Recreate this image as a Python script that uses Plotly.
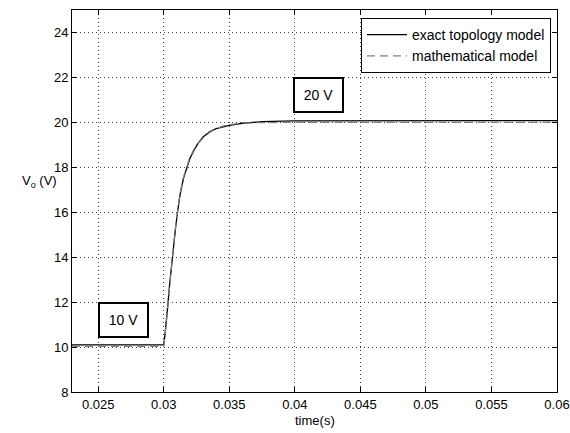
import plotly.graph_objects as go

# Exact topology model
t_exact = [0.023, 0.0300, 0.03010, 0.03020, 0.03030, 0.03045, 0.03060, 0.03075, 0.03090,
           0.03105, 0.03125, 0.03150, 0.03175, 0.03200, 0.03230, 0.03260, 0.03300, 0.03350,
           0.03400, 0.03450, 0.03500, 0.03600, 0.03750, 0.04000, 0.04500, 0.06]
v_exact = [10.10, 10.10, 10.60, 11.10, 11.80, 12.80, 13.70, 14.50, 15.30,
           16.00, 16.80, 17.50, 18.00, 18.40, 18.75, 19.05, 19.35, 19.58,
           19.72, 19.80, 19.87, 19.96, 20.03, 20.07, 20.08, 20.08]

# Mathematical model
t_math = [0.023, 0.0300, 0.03010, 0.03020, 0.03030, 0.03045, 0.03060, 0.03075, 0.03090,
          0.03105, 0.03125, 0.03150, 0.03175, 0.03200, 0.03230, 0.03260, 0.03300, 0.03350,
          0.03400, 0.03450, 0.03500, 0.03600, 0.03750, 0.04000, 0.06]
v_math = [10.03, 10.03, 10.50, 11.05, 11.75, 12.75, 13.70, 14.55, 15.35,
          16.05, 16.85, 17.55, 18.05, 18.45, 18.80, 19.05, 19.30, 19.55,
          19.72, 19.83, 19.90, 19.96, 19.99, 20.00, 20.00]

x_ticks = [0.025, 0.03, 0.035, 0.04, 0.045, 0.05, 0.055, 0.06]
x_tick_labels = ["0.025", "0.03", "0.035", "0.04", "0.045", "0.05", "0.055", "0.06"]
y_ticks = [8, 10, 12, 14, 16, 18, 20, 22, 24]

box_labels = ["10 V", "20 V"]
box_t = [0.0269, 0.0418]
box_v = [11.22, 21.2]

FONT = "Liberation Sans, Arial, sans-serif"

fig = go.Figure()
fig.add_trace(go.Scatter(x=t_exact, y=v_exact, mode="lines", name="exact topology model",
                         line=dict(color="black", width=1.3)))
fig.add_trace(go.Scatter(x=t_math, y=v_math, mode="lines", name="mathematical model",
                         line=dict(color="#808080", width=1.2, dash="8px,5px")))

for lab, tx, vy in zip(box_labels, box_t, box_v):
    fig.add_annotation(x=tx, y=vy, xref="x", yref="y", text=lab, showarrow=False,
                       font=dict(family=FONT, size=14, color="black"),
                       bgcolor="white", bordercolor="black", borderwidth=2,
                       borderpad=1, width=45, height=30)

fig.add_annotation(x=0.5, y=0, xref="paper", yref="paper", yshift=-28, text="time(s)",
                   showarrow=False, font=dict(family=FONT, size=13, color="black"),
                   xanchor="center", yanchor="middle")
fig.add_annotation(x=-0.066, y=0.55, xref="paper", yref="paper", text="V<sub>o</sub> (V)",
                   showarrow=False, font=dict(family=FONT, size=13, color="black"),
                   xanchor="center", yanchor="middle")

axis_common = dict(showline=True, linecolor="black", linewidth=1, mirror="ticks",
                   ticks="inside", ticklen=5, tickcolor="black", automargin=False,
                   showgrid=True, gridcolor="rgba(0,0,0,0.75)", gridwidth=1, griddash="1px,3px",
                   zeroline=False, tickfont=dict(family=FONT, size=13, color="black"))

fig.update_xaxes(range=[0.023, 0.06], tickvals=x_ticks, ticktext=x_tick_labels, **axis_common)
fig.update_yaxes(range=[8, 25], tickvals=y_ticks, **axis_common)

fig.update_layout(
    width=570, height=433,
    margin=dict(l=72, r=13, t=10, b=41),
    paper_bgcolor="white", plot_bgcolor="white",
    showlegend=True,
    legend=dict(x=0.9876, y=0.979, xanchor="right", yanchor="top",
                bgcolor="white", bordercolor="black", borderwidth=1,
                font=dict(family=FONT, size=14, color="black"),
                tracegroupgap=0, itemwidth=40),
)

# remove the page's default body margin so the 570x433 figure fills the window exactly
fig.write_html("out.html", config={"displayModeBar": False},
               post_script="document.body.style.margin='0';document.body.style.overflow='hidden';")
